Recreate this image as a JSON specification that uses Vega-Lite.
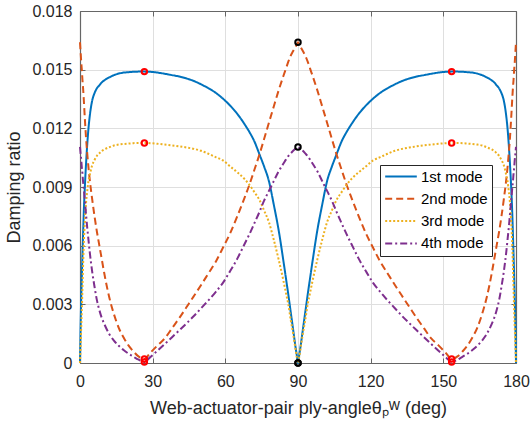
{
"$schema": "https://vega.github.io/schema/vega-lite/v6.json",
"width": 436, "height": 352,
"autosize": {"type": "none"},
"padding": {"left": 80, "top": 11, "right": 15, "bottom": 69},
"config": {
  "font": "Liberation Sans",
  "view": {"stroke": null},
  "axis": {"domainColor": "#666666", "domainWidth": 1.2, "tickColor": "#666666", "tickWidth": 1, "tickSize": -5,
    "labelFontSize": 16, "labelColor": "#262626", "labelFont": "Liberation Sans", "labelFlush": false, "labelOverlap": false,
    "titleFont": "Liberation Sans", "titleFontSize": 18, "titleFontWeight": "normal", "titleColor": "#262626",
    "gridColor": "#dfdfdf", "gridWidth": 1},
  "legend": {"orient": "none", "legendX": 300, "legendY": 154, "fillColor": "#ffffff", "strokeColor": "#262626",
    "padding": 4, "labelFontSize": 15, "labelColor": "#000000", "labelFont": "Liberation Sans",
    "symbolType": "stroke", "symbolSize": 1000, "symbolStrokeWidth": 2, "rowPadding": 6.3, "clipHeight": 15, "labelOffset": 3}
},
"datasets": {
"curves": [
{"x":0,"1st mode":0,"2nd mode":0.0164,"3rd mode":0,"4th mode":0.01105},
{"x":0.25,"1st mode":0.0019,"2nd mode":0.0159,"3rd mode":0.0009,"4th mode":0.0107},
{"x":0.5,"1st mode":0.0033,"2nd mode":0.0154,"3rd mode":0.0018,"4th mode":0.0104},
{"x":0.75,"1st mode":0.0044,"2nd mode":0.0150,"3rd mode":0.0027,"4th mode":0.0100},
{"x":1,"1st mode":0.0055,"2nd mode":0.0145,"3rd mode":0.0038,"4th mode":0.0097},
{"x":1.25,"1st mode":0.0065,"2nd mode":0.0141,"3rd mode":0.0049,"4th mode":0.0093},
{"x":1.5,"1st mode":0.0075,"2nd mode":0.0136,"3rd mode":0.0059,"4th mode":0.0090},
{"x":2,"1st mode":0.0090,"2nd mode":0.0125,"3rd mode":0.0072,"4th mode":0.0083},
{"x":2.5,"1st mode":0.0102,"2nd mode":0.0115,"3rd mode":0.0082,"4th mode":0.0076},
{"x":3,"1st mode":0.0112,"2nd mode":0.0107,"3rd mode":0.0088,"4th mode":0.0069},
{"x":3.5,"1st mode":0.0120,"2nd mode":0.0100,"3rd mode":0.0093,"4th mode":0.0063},
{"x":4,"1st mode":0.0126,"2nd mode":0.0094,"3rd mode":0.0096,"4th mode":0.0057},
{"x":5,"1st mode":0.0134,"2nd mode":0.0084,"3rd mode":0.0101,"4th mode":0.0047},
{"x":6,"1st mode":0.0138,"2nd mode":0.0075,"3rd mode":0.01038,"4th mode":0.0039},
{"x":7,"1st mode":0.01405,"2nd mode":0.0067,"3rd mode":0.0106,"4th mode":0.0032},
{"x":8,"1st mode":0.0142,"2nd mode":0.0060,"3rd mode":0.01073,"4th mode":0.0027},
{"x":9,"1st mode":0.01435,"2nd mode":0.0053,"3rd mode":0.01084,"4th mode":0.0023},
{"x":10,"1st mode":0.01445,"2nd mode":0.0046,"3rd mode":0.01092,"4th mode":0.0020},
{"x":12,"1st mode":0.0146,"2nd mode":0.0034,"3rd mode":0.01103,"4th mode":0.0015},
{"x":14,"1st mode":0.01472,"2nd mode":0.0025,"3rd mode":0.01112,"4th mode":0.00115},
{"x":16,"1st mode":0.0148,"2nd mode":0.0018,"3rd mode":0.01117,"4th mode":0.00088},
{"x":18,"1st mode":0.01485,"2nd mode":0.0013,"3rd mode":0.0112,"4th mode":0.00066},
{"x":20,"1st mode":0.01487,"2nd mode":0.0009,"3rd mode":0.01122,"4th mode":0.00048},
{"x":22,"1st mode":0.01489,"2nd mode":0.0006,"3rd mode":0.01124,"4th mode":0.00033},
{"x":24,"1st mode":0.0149,"2nd mode":0.00035,"3rd mode":0.01125,"4th mode":0.00018},
{"x":26.57,"1st mode":0.0149,"2nd mode":0.0002,"3rd mode":0.01125,"4th mode":0.00005},
{"x":29,"1st mode":0.01489,"2nd mode":0.00052,"3rd mode":0.01124,"4th mode":0.0003},
{"x":32,"1st mode":0.01485,"2nd mode":0.0009,"3rd mode":0.01121,"4th mode":0.00063},
{"x":35,"1st mode":0.01479,"2nd mode":0.00126,"3rd mode":0.01117,"4th mode":0.00097},
{"x":38,"1st mode":0.01472,"2nd mode":0.00178,"3rd mode":0.01113,"4th mode":0.00132},
{"x":41,"1st mode":0.01465,"2nd mode":0.0023,"3rd mode":0.01108,"4th mode":0.00167},
{"x":44,"1st mode":0.01455,"2nd mode":0.00286,"3rd mode":0.01102,"4th mode":0.00203},
{"x":47,"1st mode":0.01442,"2nd mode":0.00342,"3rd mode":0.01095,"4th mode":0.0024},
{"x":50,"1st mode":0.01425,"2nd mode":0.00399,"3rd mode":0.01085,"4th mode":0.0028},
{"x":53,"1st mode":0.01405,"2nd mode":0.00458,"3rd mode":0.0107,"4th mode":0.0032},
{"x":56,"1st mode":0.01382,"2nd mode":0.00517,"3rd mode":0.01053,"4th mode":0.00363},
{"x":59,"1st mode":0.01352,"2nd mode":0.00589,"3rd mode":0.01036,"4th mode":0.0041},
{"x":62,"1st mode":0.01316,"2nd mode":0.00664,"3rd mode":0.01005,"4th mode":0.0047},
{"x":65,"1st mode":0.01273,"2nd mode":0.00752,"3rd mode":0.00975,"4th mode":0.00535},
{"x":68,"1st mode":0.0122,"2nd mode":0.00847,"3rd mode":0.0094,"4th mode":0.0061},
{"x":70,"1st mode":0.0118,"2nd mode":0.00914,"3rd mode":0.0091,"4th mode":0.0066},
{"x":72,"1st mode":0.01133,"2nd mode":0.00988,"3rd mode":0.00874,"4th mode":0.00715},
{"x":74,"1st mode":0.0107,"2nd mode":0.01063,"3rd mode":0.00836,"4th mode":0.0077},
{"x":76,"1st mode":0.01005,"2nd mode":0.01145,"3rd mode":0.0078,"4th mode":0.0083},
{"x":78,"1st mode":0.0093,"2nd mode":0.01229,"3rd mode":0.0072,"4th mode":0.0088},
{"x":80,"1st mode":0.0081,"2nd mode":0.01312,"3rd mode":0.0063,"4th mode":0.0093},
{"x":82,"1st mode":0.0068,"2nd mode":0.01394,"3rd mode":0.0053,"4th mode":0.0098},
{"x":84,"1st mode":0.0052,"2nd mode":0.01469,"3rd mode":0.0042,"4th mode":0.0102},
{"x":85,"1st mode":0.00435,"2nd mode":0.01505,"3rd mode":0.0036,"4th mode":0.0104},
{"x":86,"1st mode":0.0035,"2nd mode":0.01541,"3rd mode":0.0030,"4th mode":0.01058},
{"x":87,"1st mode":0.0026,"2nd mode":0.01572,"3rd mode":0.0022,"4th mode":0.01072},
{"x":88,"1st mode":0.0017,"2nd mode":0.01595,"3rd mode":0.0015,"4th mode":0.01085},
{"x":89,"1st mode":0.0008,"2nd mode":0.01618,"3rd mode":0.0007,"4th mode":0.01096},
{"x":89.5,"1st mode":0.0004,"2nd mode":0.01629,"3rd mode":0.0003,"4th mode":0.011},
{"x":90,"1st mode":0,"2nd mode":0.0164,"3rd mode":0,"4th mode":0.01105},
{"x":90.5,"1st mode":0.0004,"2nd mode":0.01629,"3rd mode":0.0003,"4th mode":0.011},
{"x":91,"1st mode":0.0008,"2nd mode":0.01618,"3rd mode":0.0007,"4th mode":0.01096},
{"x":92,"1st mode":0.0017,"2nd mode":0.01595,"3rd mode":0.0015,"4th mode":0.01085},
{"x":93,"1st mode":0.0026,"2nd mode":0.01572,"3rd mode":0.0022,"4th mode":0.01072},
{"x":94,"1st mode":0.0035,"2nd mode":0.01541,"3rd mode":0.0030,"4th mode":0.01058},
{"x":95,"1st mode":0.00435,"2nd mode":0.01505,"3rd mode":0.0036,"4th mode":0.0104},
{"x":96,"1st mode":0.0052,"2nd mode":0.01469,"3rd mode":0.0042,"4th mode":0.0102},
{"x":98,"1st mode":0.0068,"2nd mode":0.01394,"3rd mode":0.0053,"4th mode":0.0098},
{"x":100,"1st mode":0.0081,"2nd mode":0.01312,"3rd mode":0.0063,"4th mode":0.0093},
{"x":102,"1st mode":0.0093,"2nd mode":0.01229,"3rd mode":0.0072,"4th mode":0.0088},
{"x":104,"1st mode":0.01005,"2nd mode":0.01145,"3rd mode":0.0078,"4th mode":0.0083},
{"x":106,"1st mode":0.0107,"2nd mode":0.01063,"3rd mode":0.00836,"4th mode":0.0077},
{"x":108,"1st mode":0.01133,"2nd mode":0.00988,"3rd mode":0.00874,"4th mode":0.00715},
{"x":110,"1st mode":0.0118,"2nd mode":0.00914,"3rd mode":0.0091,"4th mode":0.0066},
{"x":112,"1st mode":0.0122,"2nd mode":0.00847,"3rd mode":0.0094,"4th mode":0.0061},
{"x":115,"1st mode":0.01273,"2nd mode":0.00752,"3rd mode":0.00975,"4th mode":0.00535},
{"x":118,"1st mode":0.01316,"2nd mode":0.00664,"3rd mode":0.01005,"4th mode":0.0047},
{"x":121,"1st mode":0.01352,"2nd mode":0.00589,"3rd mode":0.01036,"4th mode":0.0041},
{"x":124,"1st mode":0.01382,"2nd mode":0.00517,"3rd mode":0.01053,"4th mode":0.00363},
{"x":127,"1st mode":0.01405,"2nd mode":0.00458,"3rd mode":0.0107,"4th mode":0.0032},
{"x":130,"1st mode":0.01425,"2nd mode":0.00399,"3rd mode":0.01085,"4th mode":0.0028},
{"x":133,"1st mode":0.01442,"2nd mode":0.00342,"3rd mode":0.01095,"4th mode":0.0024},
{"x":136,"1st mode":0.01455,"2nd mode":0.00286,"3rd mode":0.01102,"4th mode":0.00203},
{"x":139,"1st mode":0.01465,"2nd mode":0.0023,"3rd mode":0.01108,"4th mode":0.00167},
{"x":142,"1st mode":0.01472,"2nd mode":0.00178,"3rd mode":0.01113,"4th mode":0.00132},
{"x":145,"1st mode":0.01479,"2nd mode":0.00126,"3rd mode":0.01117,"4th mode":0.00097},
{"x":148,"1st mode":0.01485,"2nd mode":0.0009,"3rd mode":0.01121,"4th mode":0.00063},
{"x":151,"1st mode":0.01489,"2nd mode":0.00052,"3rd mode":0.01124,"4th mode":0.0003},
{"x":153.43,"1st mode":0.0149,"2nd mode":0.0002,"3rd mode":0.01125,"4th mode":0.00005},
{"x":156,"1st mode":0.0149,"2nd mode":0.00035,"3rd mode":0.01125,"4th mode":0.00018},
{"x":158,"1st mode":0.01489,"2nd mode":0.0006,"3rd mode":0.01124,"4th mode":0.00033},
{"x":160,"1st mode":0.01487,"2nd mode":0.0009,"3rd mode":0.01122,"4th mode":0.00048},
{"x":162,"1st mode":0.01485,"2nd mode":0.0013,"3rd mode":0.0112,"4th mode":0.00066},
{"x":164,"1st mode":0.0148,"2nd mode":0.0018,"3rd mode":0.01117,"4th mode":0.00088},
{"x":166,"1st mode":0.01472,"2nd mode":0.0025,"3rd mode":0.01112,"4th mode":0.00115},
{"x":168,"1st mode":0.0146,"2nd mode":0.0034,"3rd mode":0.01103,"4th mode":0.0015},
{"x":170,"1st mode":0.01445,"2nd mode":0.0046,"3rd mode":0.01092,"4th mode":0.0020},
{"x":171,"1st mode":0.01435,"2nd mode":0.0053,"3rd mode":0.01084,"4th mode":0.0023},
{"x":172,"1st mode":0.0142,"2nd mode":0.0060,"3rd mode":0.01073,"4th mode":0.0027},
{"x":173,"1st mode":0.01405,"2nd mode":0.0067,"3rd mode":0.0106,"4th mode":0.0032},
{"x":174,"1st mode":0.0138,"2nd mode":0.0075,"3rd mode":0.01038,"4th mode":0.0039},
{"x":175,"1st mode":0.0134,"2nd mode":0.0084,"3rd mode":0.0101,"4th mode":0.0047},
{"x":176,"1st mode":0.0126,"2nd mode":0.0094,"3rd mode":0.0096,"4th mode":0.0057},
{"x":176.5,"1st mode":0.0120,"2nd mode":0.0100,"3rd mode":0.0093,"4th mode":0.0063},
{"x":177,"1st mode":0.0112,"2nd mode":0.0107,"3rd mode":0.0088,"4th mode":0.0069},
{"x":177.5,"1st mode":0.0102,"2nd mode":0.0115,"3rd mode":0.0082,"4th mode":0.0076},
{"x":178,"1st mode":0.0090,"2nd mode":0.0125,"3rd mode":0.0072,"4th mode":0.0083},
{"x":178.5,"1st mode":0.0075,"2nd mode":0.0136,"3rd mode":0.0059,"4th mode":0.0090},
{"x":178.75,"1st mode":0.0065,"2nd mode":0.0141,"3rd mode":0.0049,"4th mode":0.0093},
{"x":179,"1st mode":0.0055,"2nd mode":0.0145,"3rd mode":0.0038,"4th mode":0.0097},
{"x":179.25,"1st mode":0.0044,"2nd mode":0.0150,"3rd mode":0.0027,"4th mode":0.0100},
{"x":179.5,"1st mode":0.0033,"2nd mode":0.0154,"3rd mode":0.0018,"4th mode":0.0104},
{"x":179.75,"1st mode":0.0019,"2nd mode":0.0159,"3rd mode":0.0009,"4th mode":0.0107},
{"x":180,"1st mode":0,"2nd mode":0.0164,"3rd mode":0,"4th mode":0.01105}
],
"markers": [
{"x":26.57,"y":0.0149,"kind":"optimum"},
{"x":26.57,"y":0.01125,"kind":"optimum"},
{"x":26.57,"y":0.0002,"kind":"optimum"},
{"x":26.57,"y":0.00005,"kind":"optimum"},
{"x":153.43,"y":0.0149,"kind":"optimum"},
{"x":153.43,"y":0.01125,"kind":"optimum"},
{"x":153.43,"y":0.0002,"kind":"optimum"},
{"x":153.43,"y":0.00005,"kind":"optimum"},
{"x":90,"y":0.0164,"kind":"symmetric"},
{"x":90,"y":0.01105,"kind":"symmetric"},
{"x":90,"y":0,"kind":"symmetric"},
{"x":90,"y":0,"kind":"symmetric"}
]
},
"layer": [
{
  "data": {"name": "curves"},
  "transform": [{"fold": ["1st mode", "2nd mode", "3rd mode", "4th mode"], "as": ["mode", "ratio"]}],
  "mark": {"type": "line", "strokeWidth": 2, "interpolate": "monotone"},
  "encoding": {
    "x": {"field": "x", "type": "quantitative", "scale": {"domain": [0, 180], "nice": false},
      "axis": {"values": [0, 30, 60, 90, 120, 150, 180], "title": "Web-actuator-pair ply-angleθₚᵂ (deg)", "labelPadding": 15, "titlePadding": 10, "grid": true}},
    "y": {"field": "ratio", "type": "quantitative", "scale": {"domain": [0, 0.018], "nice": false},
      "axis": {"values": [0, 0.003, 0.006, 0.009, 0.012, 0.015, 0.018], "format": ".3~f", "title": "Damping ratio", "labelPadding": 13, "titlePadding": 8, "grid": true}},
    "color": {"field": "mode", "type": "nominal",
      "scale": {"domain": ["1st mode", "2nd mode", "3rd mode", "4th mode"], "range": ["#0072BD", "#D95319", "#EDB120", "#7E2F8E"]},
      "legend": {"title": null}},
    "strokeDash": {"field": "mode", "type": "nominal",
      "scale": {"domain": ["1st mode", "2nd mode", "3rd mode", "4th mode"], "range": [[1, 0], [7, 4], [2, 2], [7, 3, 2, 3]]},
      "legend": {"title": null}}
  }
},
{
  "data": {"name": "markers"},
  "mark": {"type": "point", "shape": "circle", "filled": false, "strokeWidth": 2, "size": 30, "opacity": 1},
  "encoding": {
    "x": {"field": "x", "type": "quantitative", "axis": {"orient": "top", "labels": false, "title": null, "grid": false, "values": [0, 30, 60, 90, 120, 150, 180]}},
    "y": {"field": "y", "type": "quantitative", "axis": {"orient": "right", "labels": false, "title": null, "grid": false, "values": [0, 0.003, 0.006, 0.009, 0.012, 0.015, 0.018]}},
    "stroke": {"field": "kind", "type": "nominal", "scale": {"domain": ["optimum", "symmetric"], "range": ["#ff0000", "#000000"]}, "legend": null}
  }
}
],
"resolve": {"axis": {"x": "independent", "y": "independent"}}
}
